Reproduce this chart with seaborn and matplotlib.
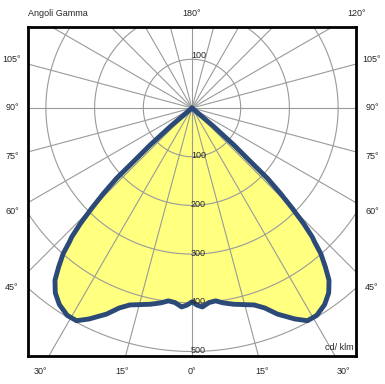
from __future__ import annotations

import matplotlib

matplotlib.use("Agg")

import matplotlib.pyplot as plt
import numpy as np
import seaborn as sns

# gamma angle (deg from nadir) and intensity (cd/klm), one half; the curve is symmetric
gamma_deg = [0, 1.5, 3, 5, 7, 9, 12, 15, 17.5, 20, 22.5, 26, 28.5, 31, 34, 36.5,
             38.5, 40, 41.5, 42.5, 43, 44, 45, 46, 47, 47.5, 48.5, 49.5, 90]
intensity = [398, 405, 409, 401, 399, 405, 412, 418, 424, 437, 458, 482, 497, 497,
             487, 472, 452, 426, 399, 372, 362, 330, 291, 253, 212, 163, 115, 59, 0]

ring_values = [100, 200, 300, 400, 500]
ring_labels_below = ["100", "200", "300", "400", "500"]
ring_label_above = "100"

left_labels = ["105°", "90°", "75°", "60°", "45°"]
left_angles = [105, 90, 75, 60, 45]
bottom_labels = ["30°", "15°", "0°", "15°", "30°"]
bottom_angles = [-30, -15, 0, 15, 30]
top_labels = ["180°", "120°"]
top_angles = [180, -120]

FILL = "#FFFF80"
LINE = "#2C4A78"
GRID = "#9A9A9A"

PX = 100 / 48.7  # cd/klm per pixel
CX, CY = 192, 108  # polar centre in pixels
BOX = (28, 27, 356, 356)  # left, top, right, bottom in pixels


def set_plot_style() -> None:
    sns.set_theme(style="white")
    plt.rcParams["font.family"] = ["Liberation Sans", "DejaVu Sans"]
    plt.rcParams["font.size"] = 6.5


def polar_xy(theta_deg, r):
    t = np.radians(theta_deg)
    return -np.asarray(r) * np.sin(t), -np.asarray(r) * np.cos(t)


def main() -> None:
    set_plot_style()
    W, H = 385, 384
    fig = plt.figure(figsize=(W / 100, H / 100), dpi=100)
    l, t, r, b = BOX
    ax = fig.add_axes([l / W, 1 - b / H, (r - l) / W, (b - t) / H])
    ax.set_xlim((l - CX) * PX, (r - CX) * PX)
    ax.set_ylim(-(b - CY) * PX, (CY - t) * PX)

    g = np.array(gamma_deg, dtype=float)
    i = np.array(intensity, dtype=float)
    theta = np.concatenate([g[::-1], -g[1:]])
    rr = np.concatenate([i[::-1], i[1:]])
    xs, ys = polar_xy(theta, rr)

    ax.fill(xs, ys, color=FILL, zorder=1, lw=0)

    # grid: rings and 15 degree spokes
    tt = np.linspace(0, 2 * np.pi, 721)
    for rv in ring_values:
        ax.plot(rv * np.cos(tt), rv * np.sin(tt), color=GRID, lw=0.8, zorder=2)
    for a in range(0, 360, 15):
        sx, sy = polar_xy(a, 1200)
        ax.plot([0, sx], [0, sy], color=GRID, lw=0.8, zorder=2)

    sns.lineplot(x=xs, y=ys, sort=False, estimator=None, color=LINE, lw=3.5,
                 ax=ax, zorder=3, solid_joinstyle="round", solid_capstyle="round")

    # intensity labels
    ax.text(-1 * PX, ring_values[0] + 4 * PX, ring_label_above, ha="left", va="center", zorder=4)
    for rv, lab in zip(ring_values, ring_labels_below):
        ax.text(-1 * PX, -rv + 1 * PX, lab, ha="left", va="center", zorder=4)

    # angle labels along the extended spokes
    side = 180 * PX
    for a, lab in zip(left_angles, left_labels):
        tn = np.radians(a)
        y = -side / np.tan(tn) if a != 90 else 0
        ax.text(-side, y, lab, ha="center", va="center", clip_on=False)
        ax.text(side, y, lab, ha="center", va="center", clip_on=False)
    low = -262 * PX
    for a, lab in zip(bottom_angles, bottom_labels):
        x = low * np.tan(np.radians(a))
        ax.text(x, low - 2 * PX, lab, ha="center", va="center", clip_on=False)
    high = 95 * PX
    for a, lab in zip(top_angles, top_labels):
        c = -np.cos(np.radians(a))
        x, _ = polar_xy(a, high / c)
        ax.text(float(x), high, lab, ha="center", va="center", clip_on=False)

    ax.text((l - CX) * PX, high, "Angoli Gamma", ha="left", va="center", clip_on=False)
    ax.text((r - CX - 2) * PX, -(348 - CY) * PX, "cd/ klm", ha="right", va="center", zorder=4)

    ax.set_xticks([])
    ax.set_yticks([])
    ax.set_xlabel("")
    ax.set_ylabel("")
    for sp in ax.spines.values():
        sp.set_visible(True)
        sp.set_color("black")
        sp.set_linewidth(2.0)
        sp.set_zorder(5)
    if ax.get_legend() is not None:
        ax.get_legend().remove()

    fig.savefig("out.png", dpi=100)
    plt.close(fig)


if __name__ == "__main__":
    main()
